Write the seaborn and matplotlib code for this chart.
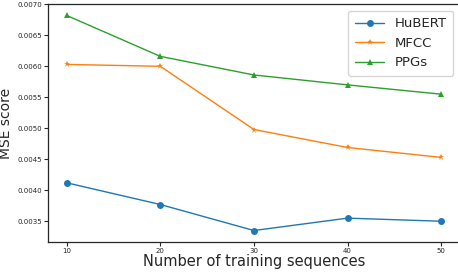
import pandas as pd
import matplotlib
matplotlib.use("Agg")
import matplotlib.pyplot as plt
import seaborn as sns

# Data
sequences = [10, 20, 30, 40, 50]
hubert = [0.00412, 0.00377, 0.00335, 0.00355, 0.00350]
mfcc = [0.00603, 0.00600, 0.00498, 0.00469, 0.00453]
ppgs = [0.00682, 0.00616, 0.00586, 0.00570, 0.00555]

series = {"HuBERT": hubert, "MFCC": mfcc, "PPGs": ppgs}
markers = {"HuBERT": "o", "MFCC": "*", "PPGs": "^"}
colors = {"HuBERT": "#1f77b4", "MFCC": "#ff7f0e", "PPGs": "#2ca02c"}

df = pd.DataFrame(
    [(x, name, v) for name, vals in series.items() for x, v in zip(sequences, vals)],
    columns=["seq", "feature", "mse"],
)

sns.set_style("ticks")
plt.rcParams["font.family"] = ["DejaVu Sans"]

fig = plt.figure(figsize=(4.58, 2.72), dpi=100)
ax = fig.add_axes([48 / 458, 30 / 272, 1 - 48 / 458 + 0.004, 238 / 272])

for name in series:
    sub = df[df["feature"] == name]
    sns.lineplot(data=sub, x="seq", y="mse", ax=ax, color=colors[name],
                 marker=markers[name], markersize=5, markeredgewidth=0,
                 linewidth=1, label=name)

ax.set_xticks(sequences)
ax.set_xlim(8, 52)
ax.set_ylim(0.003165, 0.007005)
ax.set_xlabel("Number of training sequences", fontsize=10.5, labelpad=0)
ax.set_ylabel("MSE score", fontsize=10)
ax.yaxis.set_label_coords(-0.086, 0.5)
ax.tick_params(axis="both", labelsize=5, length=3, width=0.8, pad=1.5)
ax.yaxis.set_major_formatter(matplotlib.ticker.FormatStrFormatter("%.4f"))
for s in ax.spines.values():
    s.set_visible(True)
    s.set_linewidth(0.9)

leg = ax.legend(loc="upper right", fontsize=9.5, frameon=True,
                handlelength=2.2, borderpad=0.5, labelspacing=0.5)
leg.get_frame().set_edgecolor("#cccccc")

fig.savefig("out.png", dpi=100)
